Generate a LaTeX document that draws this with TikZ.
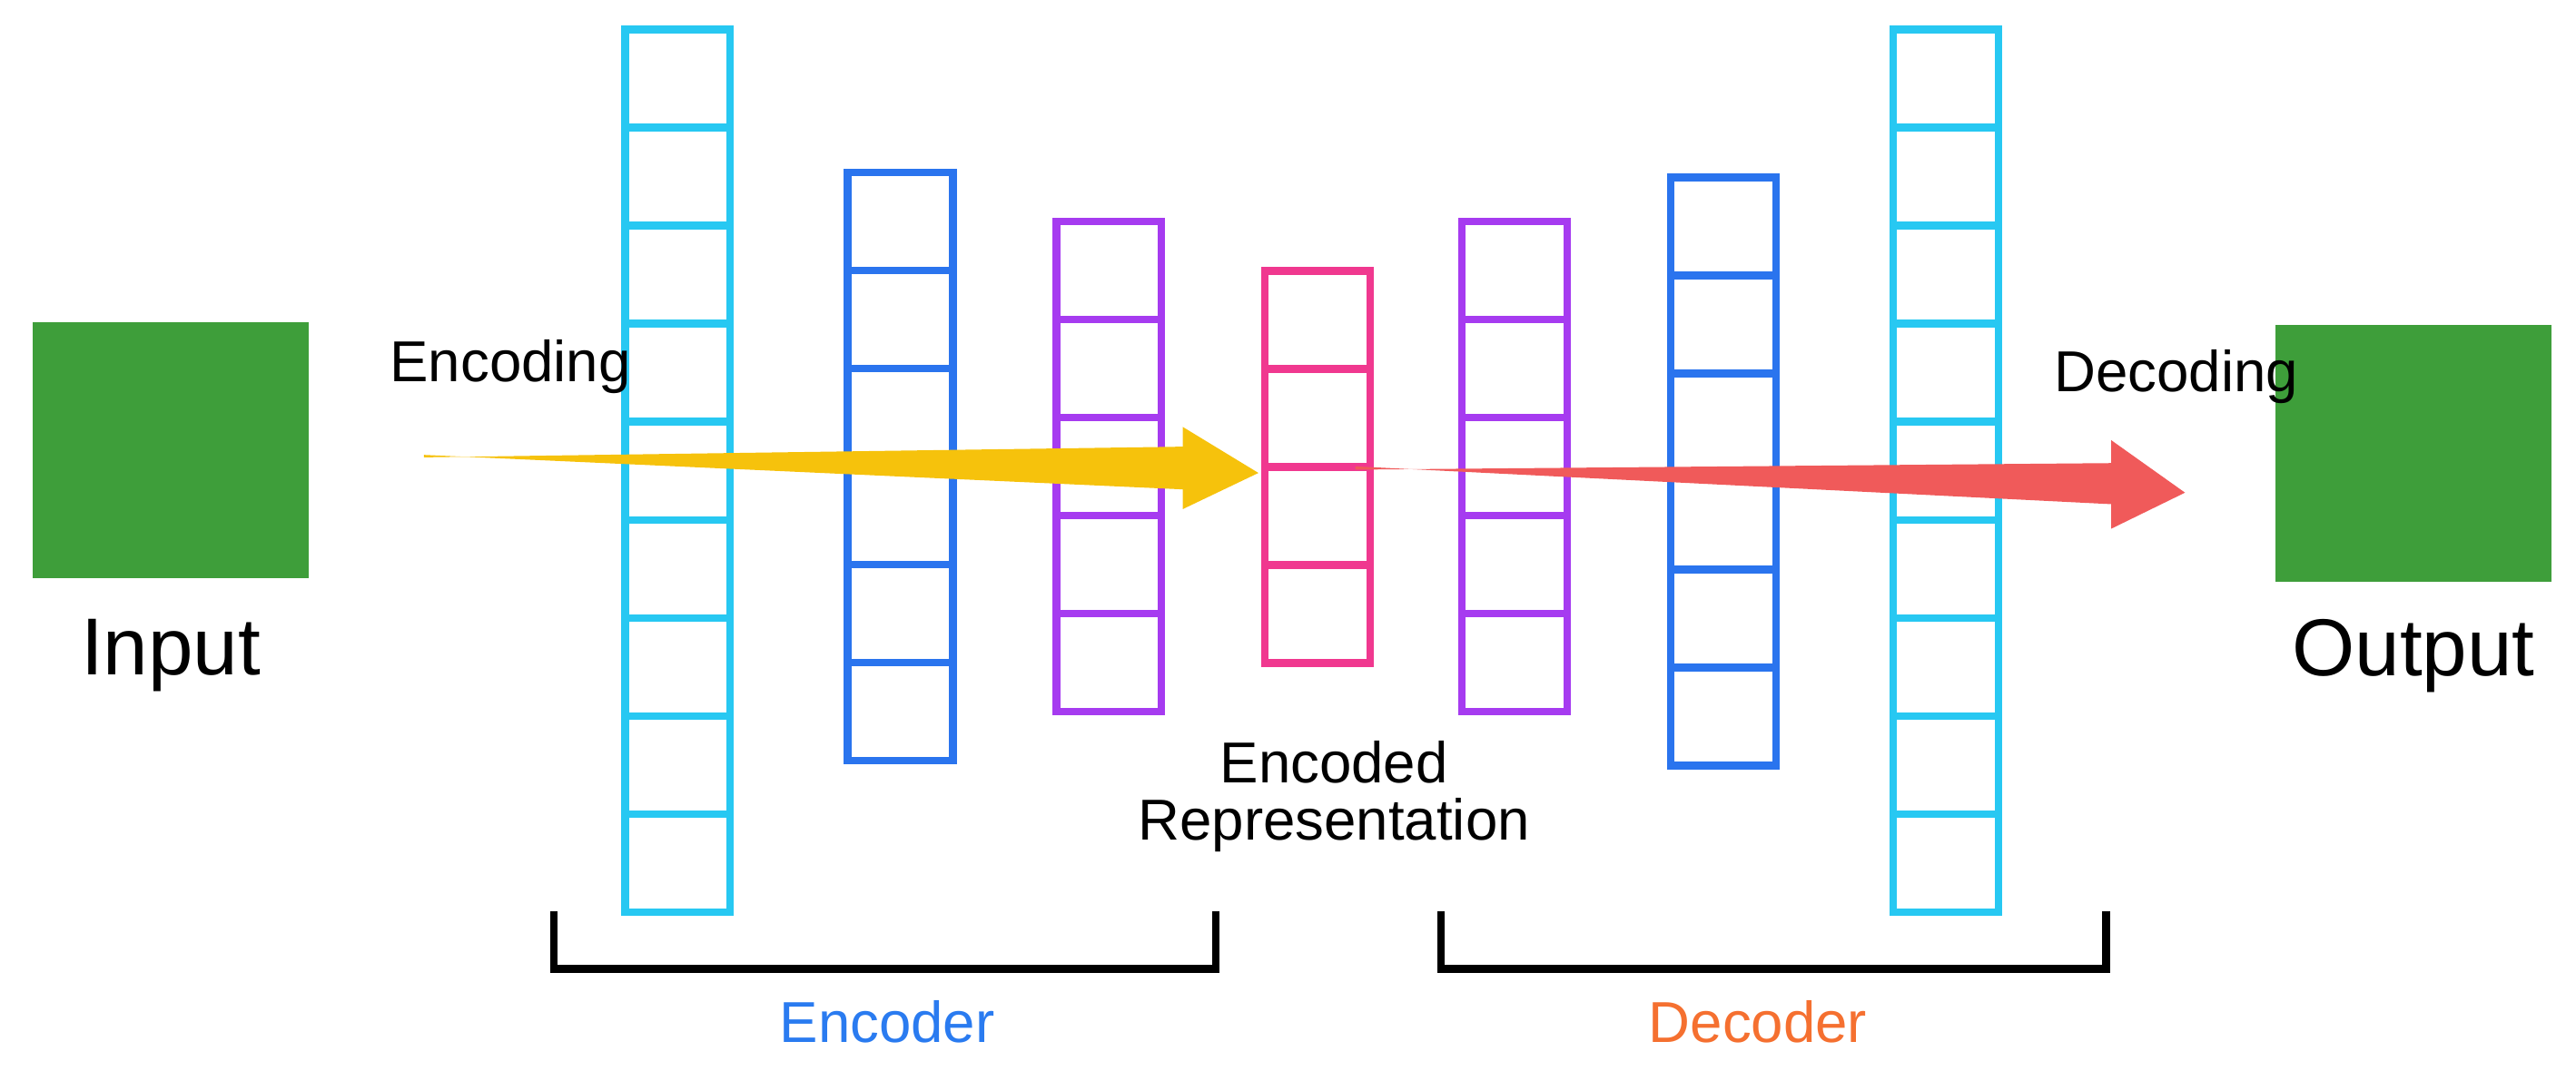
\documentclass[tikz,border=0pt]{standalone}
\usepackage{fontspec}
\setmainfont{Liberation Sans}
\usetikzlibrary{positioning}
\definecolor{boxgreen}{HTML}{3E9E3A}
\definecolor{cyanl}{HTML}{27C8F2}
\definecolor{bluel}{HTML}{2A74EE}
\definecolor{purplel}{HTML}{A63BF0}
\definecolor{pinkl}{HTML}{F0388F}
\definecolor{arrowyellow}{HTML}{F6C20C}
\definecolor{arrowred}{HTML}{F05A5A}
\definecolor{encblue}{HTML}{2A7BF0}
\definecolor{decorange}{HTML}{F57030}

\begin{document}
\begin{tikzpicture}[x=1cm,y=1cm,
    cell/.style={draw=#1, line width=1.3pt, minimum width=0.64cm, minimum height=0.597cm, inner sep=0pt},
    datablock/.style={fill=boxgreen, draw=none, minimum width=1.68cm, minimum height=1.56cm, inner sep=0pt},
    lbl/.style={font=\fontsize{14}{16}\selectfont},
    small/.style={font=\fontsize{10}{12}\selectfont, align=center},
    bracket/.style={line width=1.3pt}]
    \useasboundingbox (0,0) rectangle (15.68,6.52);

    %% input and output
    \node[datablock] (input) at (1.04,3.78) {};
    \node[lbl, below=0.12cm of input] (inlabel) {Input};
    \node[datablock] (output) at (14.69,3.76) {};
    \node[lbl, below=0.1cm of output] (outlabel) {Output};

    %% layer columns: name/x centre/top/cells/colour
    \foreach \name/\xc/\top/\n/\col in {c1/4.125/6.34/9/cyanl, c2/5.48/5.47/6/bluel,
            c3/6.75/5.17/5/purplel, c4/8.02/4.87/4/pinkl, c5/9.22/5.17/5/purplel,
            c6/10.49/5.44/6/bluel, c7/11.845/6.34/9/cyanl} {
        \foreach \i in {1,...,\n} {
            \node[cell=\col] (\name-\i) at (\xc,{\top-(\i-0.5)*0.597}) {};
        }
    }

    %% arrows
    \fill[arrowyellow] (2.58,3.75) -- (7.2,3.54) -- (7.2,3.42) -- (7.66,3.64) -- (7.2,3.92)
        -- (7.2,3.8) -- (2.58,3.735) -- cycle;
    \fill[arrowred] (8.25,3.68) -- (12.85,3.45) -- (12.85,3.3) -- (13.3,3.52) -- (12.85,3.84)
        -- (12.85,3.7) -- (8.25,3.66) -- cycle;
    \node[small, anchor=south west] (enc) at (2.25,4.0) {Encoding};
    \node[small, anchor=south west] (dec) at (12.38,3.94) {Decoding};
    \node[small] (rep) at (8.12,1.67) {Encoded\\[-2pt]Representation};

    %% brackets
    \draw[bracket] (3.37,0.97) -- (3.37,0.62) -- (7.40,0.62) -- (7.40,0.97);
    \draw[bracket] (8.77,0.97) -- (8.77,0.62) -- (12.82,0.62) -- (12.82,0.97);
    \node[small, text=encblue] (encoder) at (5.40,0.30) {Encoder};
    \node[small, text=decorange] (decoder) at (10.70,0.30) {Decoder};
\end{tikzpicture}
\end{document}
